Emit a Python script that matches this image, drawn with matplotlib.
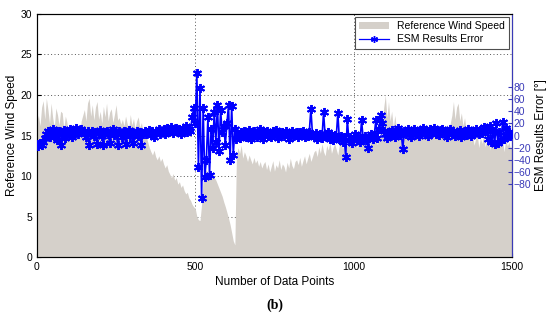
import numpy as np
import matplotlib
matplotlib.use("Agg")
import matplotlib.pyplot as plt
from matplotlib.lines import Line2D
from matplotlib.patches import Patch

plt.rcParams['font.family'] = ['Liberation Sans', 'DejaVu Sans']

step = 5  # samples between stored points

# Reference wind speed (left axis), one value every 5 data points
wind = [
    # 0-95
    16.8, 17.5, 16.2, 18.5, 19.3, 17.0, 19.6, 18.2, 16.5, 19.0,
    17.2, 16.0, 18.4, 17.6, 16.3, 18.0, 17.8, 15.9, 17.4, 16.6,
    # 100-145
    15.2, 16.1, 14.6, 15.8, 14.9, 15.5, 16.4, 15.0, 16.8, 17.5,
    # 150-265
    18.2, 16.8, 19.0, 19.6, 17.4, 18.8, 16.9, 18.5, 19.2, 17.0,
    18.0, 16.5, 18.6, 17.3, 19.0, 16.8, 17.9, 18.3, 16.6, 17.6,
    18.8, 16.9, 17.2, 16.4,
    # 270-340
    17.0, 16.2, 17.4, 16.5, 15.8, 17.6, 16.3, 17.1, 15.9, 16.8,
    17.3, 16.0, 16.6, 15.5, 16.2,
    # 345-400
    15.0, 14.2, 13.5, 13.0, 12.6, 13.2, 12.4, 12.0, 12.5, 11.8, 12.2, 11.5,
    # 405-495
    11.0, 11.4, 10.6, 10.2, 9.8, 10.3, 9.5, 9.8, 9.0, 9.3,
    8.6, 8.9, 8.2, 7.8, 8.0, 7.3, 7.0, 6.5, 6.2,
    # 500-525
    6.0, 5.0, 4.6, 4.5, 6.5, 9.8,
    # 530-625
    10.5, 10.8, 10.2, 10.6, 10.0, 10.4, 9.8, 9.5, 9.0, 8.5,
    8.0, 7.5, 6.8, 6.2, 5.5, 4.8, 4.0, 3.0, 2.0, 1.5,
    # 630-715
    12.5, 13.5, 12.8, 13.8, 12.2, 13.0, 12.5, 11.8, 12.6, 12.0,
    11.5, 12.3, 11.6, 12.0, 11.2, 11.8, 11.0, 11.5,
    # 720-875
    11.8, 10.8, 11.5, 10.5, 11.2, 11.9, 10.6, 11.4, 11.0, 12.0,
    10.8, 11.5, 11.2, 10.5, 11.7, 11.0, 12.2, 11.3, 10.9, 11.8,
    12.0, 11.4, 12.3, 11.2, 11.9, 12.5, 11.5, 12.2, 12.8, 11.8,
    12.4, 13.0,
    # 880-970
    13.2, 12.4, 13.6, 12.8, 14.0, 13.0, 12.5, 13.8, 13.2, 14.2,
    12.8, 13.5, 14.0, 13.3, 12.6, 13.9, 14.3, 13.4, 13.8,
    # 975-1085
    14.2, 13.6, 14.6, 14.0, 13.8, 14.8, 14.2, 13.5, 14.5, 14.0,
    14.7, 13.8, 14.3, 14.9, 14.1, 13.7, 14.6, 14.2, 15.0, 14.4,
    13.9, 14.8, 15.2,
    # 1090-1145
    16.5, 18.5, 20.0, 17.2, 19.2, 16.8, 18.0, 16.0, 17.5, 15.8, 16.5, 15.2,
    # 1150-1300
    15.5, 14.6, 15.8, 14.9, 15.2, 16.0, 14.5, 15.4, 15.9, 14.8,
    15.3, 16.1, 14.7, 15.6, 15.0, 16.2, 14.9, 15.4, 15.8, 14.6,
    15.5, 16.0, 15.1, 14.8, 15.7, 15.2, 16.3, 15.0, 15.6, 16.4,
    15.8,
    # 1305-1360
    16.5, 17.5, 19.2, 17.0, 18.5, 19.0, 16.8, 17.8, 16.2, 17.2, 15.8, 16.5,
    # 1365-1500
    15.0, 14.2, 15.5, 13.8, 14.6, 15.2, 13.5, 14.8, 14.0, 15.3,
    13.6, 14.4, 15.0, 13.2, 14.6, 13.9, 15.1, 14.2, 13.5, 14.8,
    13.8, 14.4, 13.0, 14.6, 13.7, 14.2, 13.4, 13.8,
]

# ESM results error in degrees (right axis), one value every 5 data points
esm_error = [
    # 0-25
    -14, -18, -12, -16, -10, -4,
    # 30-145
    2, 8, -2, 6, 10, 0, 5, -8, 7, -15, 3, 9, -4, 6, 1, 10, -3, 8, 4, 12,
    2, 7, 11, 5,
    # 150-345
    5, -2, 8, -15, 3, 7, -1, 6, -14, 4, 9, 0, -16, 5, 8, 2, -13, 6, 10, 1,
    4, -15, 7, 3, -2, 8, -14, 5, 9, 0, 6, -12, 4, 8, -1, 5, -15, 3, 7, 2,
    # 350-495
    4, 9, 1, 7, -3, 8, 5, 11, 2, 6, 10, 3, 12, 5, 8, 14, 4, 9, 13, 6,
    10, 3, 12, 8, 15, 5, 11, 7, 30, 45,
    # 500-630
    20, 103, -52, 78, -103, 45, -68, -40, 30, -65, 10, -20, 39, -10, 50,
    -25, 42, 5, 15, -15, 20, 50, -40, 48, -32, 10, -5,
    # 635-860
    3, -4, 6, 0, 8, -2, 5, 9, -5, 4, 7, 1, -3, 6, 10, 2, -6, 5, 8, 0,
    4, -2, 7, 3, 9, -4, 5, 1, 6, -1, 8, 2, -5, 4, 7, 0, 3, 6, -3, 5,
    1, 8, -2, 4, 0, 6,
    # 865-1100
    44, 2, -3, 4, -6, 1, 3, -4, 38, 0, -2, 5, -5, 2, -8, 1, -3, 37, -6, 0,
    -10, -3, -35, 27, -8, -2, -12, -4, 2, -8, -3, -10, 25, -5, 0, -7, -20,
    -2, 3, -6, 1, 25, -4, 10, 34, 20, 8, 2,
    # 1105-1420
    -4, 6, 0, 9, 3, -2, 8, 12, 1, 5, -22, 7, 2, 10, 4, -3, 8, 11, 3, 6,
    0, 9, 5, 12, 2, 7, -1, 10, 4, 8, 13, 3, 6, 1, 9, 11, 4, 7, -2, 5,
    10, 2, 8, 0, 6, 3, 9, -3, 4, 7, 1, 10, 5, -1, 8, 3, 11, 6, 2, 9,
    4, 14, 7, 12,
    # 1425-1500
    -5, 15, -10, 8, -14, 20, -12, 5, -8, 22, -6, 12, -3, 6, 0, 3,
]

x_ticks = [0, 500, 1000, 1500]
left_ticks = [0, 5, 10, 15, 20, 25, 30]
right_ticks = [-80, -60, -40, -20, 0, 20, 40, 60, 80]

fill_color = '#d5d0ca'
blue = '#0000ff'
axis_blue = '#3a3ab8'

x_wind = np.arange(len(wind)) * step
x_err = np.arange(len(esm_error)) * step

fig = plt.figure(figsize=(5.5, 3.25), dpi=100)
ax = fig.add_axes([0.067, 0.209, 0.864, 0.748])
ax.fill_between(x_wind, 0, wind, color=fill_color, linewidth=0, zorder=2)
ax.set_xlim(0, 1500)
ax.set_ylim(0, 30)
ax.set_xticks(x_ticks)
ax.set_yticks(left_ticks)
ax.set_axisbelow(True)
ax.grid(True, linestyle=(0, (1, 2.5)), color='#555555', linewidth=0.7)
ax.tick_params(direction='in', labelsize=7.5, length=3, right=True, top=False)
ax.set_xlabel('Number of Data Points', fontsize=8.5, labelpad=3)
ax.set_ylabel('Reference Wind Speed', fontsize=8.5, labelpad=2)
for s in ['left', 'bottom', 'top']:
    ax.spines[s].set_color('#333333')

ax2 = ax.twinx()
ax2.plot(x_err, esm_error, color=blue, linewidth=1.2, marker=(6, 2, 0),
         markersize=6.5, markeredgewidth=1.4, zorder=3)
ax2.set_ylim(-200, 200)
ax2.set_yticks(right_ticks)
ax2.tick_params(direction='in', labelsize=7.5, length=3, colors=axis_blue,
                pad=1)
ax2.spines['right'].set_color(axis_blue)
ax2.set_ylabel('ESM Results Error [°]', fontsize=8.5, labelpad=3)

handles = [Patch(facecolor=fill_color, edgecolor='none'),
           Line2D([], [], color=blue, marker=(6, 2, 0), markersize=5,
                  linewidth=0.9)]
leg = ax2.legend(handles, ['Reference Wind Speed', 'ESM Results Error'],
                 loc='upper right', fontsize=7.5, frameon=True, fancybox=False,
                 borderpad=0.4, handlelength=2.8, labelspacing=0.3,
                 borderaxespad=0.3)
leg.get_frame().set_edgecolor('#222222')
leg.get_frame().set_linewidth(0.8)

fig.text(0.5, 0.06, '(b)', ha='center', va='center', fontsize=10,
         fontweight='bold', family=['Liberation Serif', 'DejaVu Serif'])

fig.savefig('out.png', dpi=100)
